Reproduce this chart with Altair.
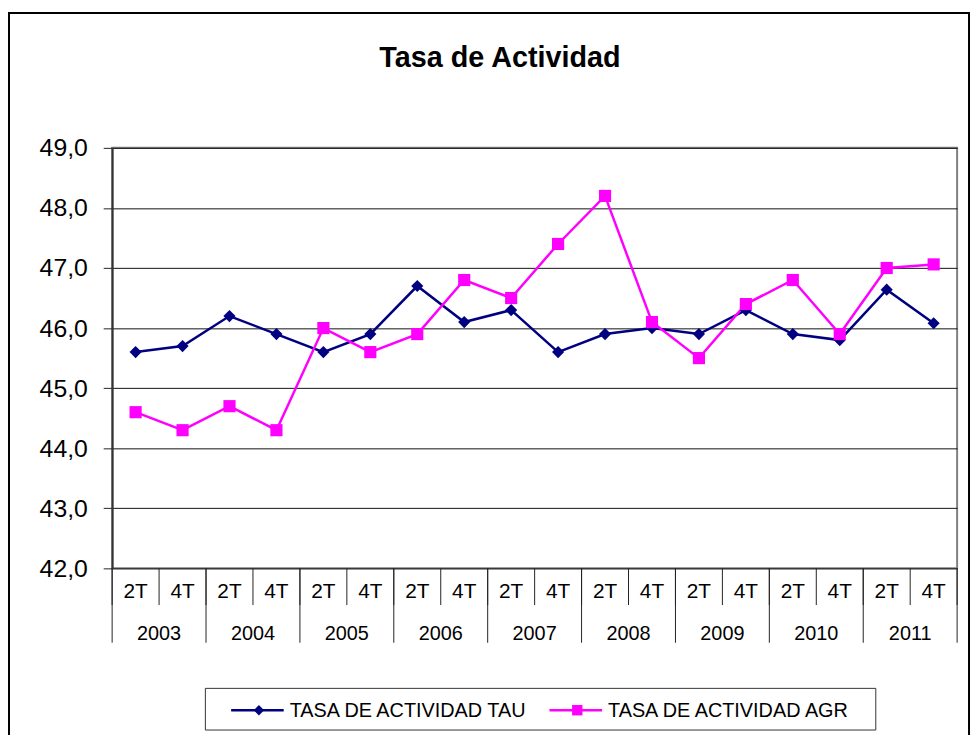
import altair as alt
import pandas as pd

# ---- data ----
years = ["2003", "2004", "2005", "2006", "2007", "2008", "2009", "2010", "2011"]
quarters = ["2T", "4T"]
series_names = ["TASA DE ACTIVIDAD TAU", "TASA DE ACTIVIDAD AGR"]
tau = [45.6, 45.7, 46.2, 45.9, 45.6, 45.9, 46.7, 46.1, 46.3,
       45.6, 45.9, 46.0, 45.9, 46.3, 45.9, 45.8, 46.64, 46.08]
agr = [44.6, 44.3, 44.7, 44.3, 46.0, 45.6, 45.9, 46.8, 46.5,
       47.4, 48.2, 46.1, 45.5, 46.4, 46.8, 45.9, 47.0, 47.06]
y_ticks = [42, 43, 44, 45, 46, 47, 48, 49]

colors = ["#000080", "#FF00FF"]
shapes = ["diamond", "square"]
FONT = "Liberation Sans"
W, H = 852, 424

n = len(years) * len(quarters)
rows = []
for sname, vals in zip(series_names, [tau, agr]):
    for i, v in enumerate(vals):
        rows.append({"pos": i + 0.5, "serie": sname, "valor": v})
df = pd.DataFrame(rows)

qdf = pd.DataFrame({"pos": [i + 0.5 for i in range(n)],
                    "lab": [quarters[i % 2] for i in range(n)]})
ydf = pd.DataFrame({"pos": [2 * k + 1 for k in range(len(years))], "lab": years})
sep_q = pd.DataFrame({"pos": list(range(n + 1))})
sep_y = pd.DataFrame({"pos": list(range(0, n + 1, 2))})

xscale = alt.Scale(domain=[0, n], nice=False, zero=False)
yscale = alt.Scale(domain=[42, 49], nice=False, zero=False)
cscale = alt.Scale(domain=series_names, range=colors)
sscale = alt.Scale(domain=series_names, range=shapes)

base = alt.Chart(df).encode(
    x=alt.X("pos:Q", scale=xscale, axis=None),
    y=alt.Y("valor:Q", scale=yscale, title=None,
            axis=alt.Axis(values=y_ticks, grid=True, gridColor="#111111", gridWidth=1,
                          labelExpr="replace(format(datum.value, '.1f'), '.', ',')",
                          labelFont=FONT, labelFontSize=25, labelColor="black",
                          tickSize=9, tickColor="#222222", labelPadding=16,
                          domainColor="#333333", domainWidth=2)),
    color=alt.Color("serie:N", scale=cscale, legend=None),
)
lines = base.mark_line(strokeWidth=2.5)
points = base.mark_point(filled=True, opacity=1, size=150).encode(
    shape=alt.Shape("serie:N", scale=sscale, legend=None))

one = alt.Data(values=[{"a": 1}])

frame = alt.Chart(one).mark_rect(filled=False, stroke="black", strokeWidth=2).encode(
    x=alt.value(-104), x2=alt.value(864), y=alt.value(-136), y2=alt.value(700))

qlabels = alt.Chart(qdf).mark_text(font=FONT, fontSize=21, baseline="alphabetic").encode(
    x=alt.X("pos:Q", scale=xscale), y=alt.value(454), text="lab:N")
ylabels = alt.Chart(ydf).mark_text(font=FONT, fontSize=20, baseline="alphabetic").encode(
    x=alt.X("pos:Q", scale=xscale), y=alt.value(496), text="lab:N")
qsep = alt.Chart(sep_q).mark_rule(color="#222222", strokeWidth=1).encode(
    x=alt.X("pos:Q", scale=xscale), y=alt.value(H), y2=alt.value(461))
ysep = alt.Chart(sep_y).mark_rule(color="#222222", strokeWidth=1).encode(
    x=alt.X("pos:Q", scale=xscale), y=alt.value(H), y2=alt.value(499))

title = alt.Chart(one).mark_text(font=FONT, fontSize=29, fontWeight="bold",
                                 baseline="alphabetic", align="center").encode(
    x=alt.value(391), y=alt.value(-82), text=alt.value("Tasa de Actividad"))

# legend
leg_box = alt.Chart(one).mark_rect(filled=False, stroke="#333333", strokeWidth=1).encode(
    x=alt.value(94), x2=alt.value(770), y=alt.value(545), y2=alt.value(587))
leg_layers = []
leg_x = [120, 441]
for k, sname in enumerate(series_names):
    d = alt.Data(values=[{"serie": sname}])
    x0 = leg_x[k]
    leg_layers.append(alt.Chart(d).mark_rule(color=colors[k], strokeWidth=2.5).encode(
        x=alt.value(x0), x2=alt.value(x0 + 53), y=alt.value(567)))
    leg_layers.append(alt.Chart(d).mark_point(filled=True, opacity=1, size=110,
                                              shape=shapes[k], color=colors[k]).encode(
        x=alt.value(x0 + 28), y=alt.value(567)))
    leg_layers.append(alt.Chart(d).mark_text(font=FONT, fontSize=20, align="left",
                                             baseline="middle", color="black").encode(
        x=alt.value(x0 + 59), y=alt.value(568), text="serie:N"))

chart = alt.layer(
    frame, lines, points, qsep, ysep, qlabels, ylabels, title, leg_box, *leg_layers
).properties(
    width=W, height=H,
    padding={"left": 105, "top": 138, "right": 14, "bottom": 165},
    autosize=alt.AutoSizeParams(type="none"),
).configure_view(stroke="#808080", strokeWidth=2)

chart.save("out.html", embed_options={"renderer": "svg", "actions": False})
